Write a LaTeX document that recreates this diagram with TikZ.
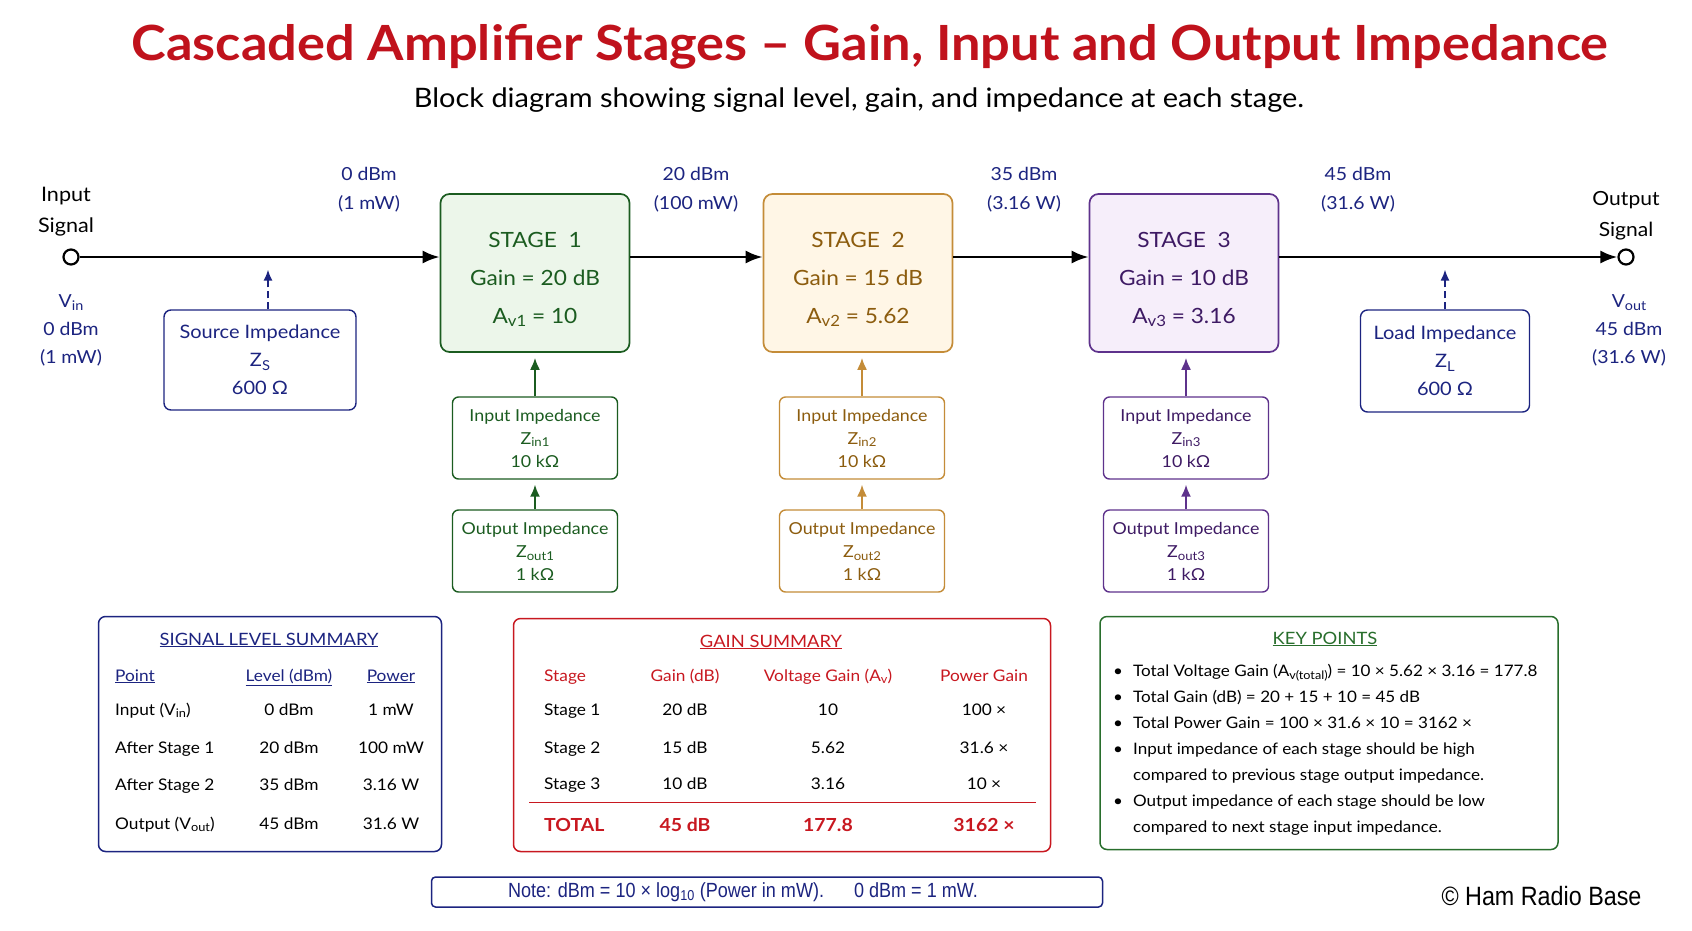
\documentclass[tikz,border=0pt]{standalone}
\usepackage{fontspec}
\setmainfont{Lato}[FakeStretch=1.08]
\newfontfamily\narrowfont[FakeStretch=0.88]{Liberation Sans}
\usetikzlibrary{arrows.meta}

\definecolor{titlered}{RGB}{192,18,28}
\definecolor{navy}{RGB}{28,36,128}
\definecolor{stgreen}{RGB}{27,92,32}
\definecolor{stgreenfill}{RGB}{236,246,234}
\definecolor{storange}{RGB}{140,92,14}
\definecolor{storangeline}{RGB}{196,140,56}
\definecolor{storangefill}{RGB}{255,246,230}
\definecolor{stpurple}{RGB}{62,26,100}
\definecolor{stpurpleline}{RGB}{94,50,140}
\definecolor{stpurplefill}{RGB}{246,238,250}
\definecolor{gainred}{RGB}{200,24,32}
\definecolor{keygreen}{RGB}{40,110,44}

\newcommand\fsz[2]{\fontsize{#1}{#2}\selectfont}
\newcommand\subtxt[1]{\raisebox{-0.35ex}{\scalebox{0.74}{#1}}}
\newcommand\topstrut{\rule{0pt}{28pt}}

\tikzset{
  term/.style={circle, draw, line width=2.2pt, fill=white, minimum size=15pt, inner sep=0pt},
  sigline/.style={line width=2.6pt, -{Latex[length=17pt,width=13pt]}},
  stagebox/.style={draw, rounded corners=9pt, line width=1.7pt, minimum width=189pt,
    minimum height=158pt, align=center, font=\fsz{21}{38}},
  impbox/.style={draw, rounded corners=6pt, line width=1.4pt, fill=white, minimum width=165pt,
    minimum height=82pt, align=center, font=\fsz{16.5}{23}},
  zbox/.style={draw=navy, text=navy, rounded corners=7pt, line width=1.4pt, align=center,
    font=\fsz{18.5}{28}},
  upar/.style={line width=1.8pt, shorten >=5pt, -{Latex[length=12pt,width=10pt]}},
  dasharrow/.style={navy, line width=1.6pt, dash pattern=on 7pt off 4pt, shorten >=4pt,
    -{Latex[length=11pt,width=9pt]}},
  lvl/.style={text=navy, align=center, font=\fsz{18}{29}},
  panel/.style={draw, rounded corners=7pt, line width=1.5pt},
  cell/.style={font=\fsz{16}{20}, text height=12pt, text depth=4pt, inner sep=0pt},
  tothead/.style={font=\fsz{18}{22}\bfseries, text=gainred, text height=14pt, text depth=4pt, inner sep=0pt}
}

\begin{document}
\begin{tikzpicture}[x=1pt, y=-1pt]
\fill[white] (0,0) rectangle (1692,930);
\useasboundingbox (0,0) rectangle (1692,930);

% heading
\node[font=\fsz{48.5}{54}\bfseries, text=titlered] (title) at (870,47)
  {Cascaded Amplifier Stages – Gain, Input and Output Impedance};
\node[font=\fsz{26.8}{30}] (subtitle) at (859,100)
  {Block diagram showing signal level, gain, and impedance at each stage.};

% input and output terminals
\node[term] (vin) at (71,257) {};
\node[term] (vout) at (1626,257) {};
\node[align=center, font=\fsz{20}{31}] (inlbl) at (66,212) {Input\\Signal};
\node[align=center, font=\fsz{19.5}{31}] (outlbl) at (1626,216) {Output\\Signal};
\node[lvl, font=\fsz{18}{28}] (vinlbl) at (71,330) {V\subtxt{in}\\0 dBm\\(1 mW)};
\node[lvl, font=\fsz{18}{28}] (voutlbl) at (1629,330) {V\subtxt{out}\\45 dBm\\(31.6 W)};

% signal levels along the line
\node[lvl] (lvl0) at (369,190) {0 dBm\\(1 mW)};
\node[lvl] (lvl1) at (696,190) {20 dBm\\(100 mW)};
\node[lvl] (lvl2) at (1024,190) {35 dBm\\(3.16 W)};
\node[lvl] (lvl3) at (1358,190) {45 dBm\\(31.6 W)};

% stages
\node[stagebox, draw=stgreen, fill=stgreenfill, text=stgreen] (st1) at (535,273)
  {\topstrut STAGE\ \ 1\\Gain\ =\ 20\ dB\\A\subtxt{v1}\ =\ 10};
\node[stagebox, draw=storangeline, fill=storangefill, text=storange] (st2) at (858,273)
  {\topstrut STAGE\ \ 2\\Gain\ =\ 15\ dB\\A\subtxt{v2}\ =\ 5.62};
\node[stagebox, draw=stpurpleline, fill=stpurplefill, text=stpurple] (st3) at (1184,273)
  {\topstrut STAGE\ \ 3\\Gain\ =\ 10\ dB\\A\subtxt{v3}\ =\ 3.16};

% impedance boxes under each stage
\node[impbox, draw=stgreen, text=stgreen] (zi1) at (535,438) {Input Impedance\\Z\subtxt{in1}\\10 kΩ};
\node[impbox, draw=stgreen, text=stgreen] (zo1) at (535,551) {Output Impedance\\Z\subtxt{out1}\\1 kΩ};
\node[impbox, draw=storangeline, text=storange] (zi2) at (862,438) {Input Impedance\\Z\subtxt{in2}\\10 kΩ};
\node[impbox, draw=storangeline, text=storange] (zo2) at (862,551) {Output Impedance\\Z\subtxt{out2}\\1 kΩ};
\node[impbox, draw=stpurpleline, text=stpurple] (zi3) at (1186,438) {Input Impedance\\Z\subtxt{in3}\\10 kΩ};
\node[impbox, draw=stpurpleline, text=stpurple] (zo3) at (1186,551) {Output Impedance\\Z\subtxt{out3}\\1 kΩ};

% source and load
\node[zbox, minimum width=192pt, minimum height=100pt] (zs) at (260,360) {Source Impedance\\Z\subtxt{S}\\600 Ω};
\node[zbox, minimum width=169pt, minimum height=102pt] (zl) at (1445,361) {Load Impedance\\Z\subtxt{L}\\600 Ω};

% signal path
\draw[sigline] (vin.east) -- (vin.east -| st1.west);
\draw[sigline] (vin -| st1.east) -- (vin -| st2.west);
\draw[sigline] (vin -| st2.east) -- (vin -| st3.west);
\draw[sigline] (vin -| st3.east) -- (vout.west);

\draw[dasharrow] ([xshift=8pt]zs.north) -- ([xshift=8pt]zs.north |- vin.south);
\draw[dasharrow] (zl.north) -- (zl.north |- vin.south);

\draw[upar, stgreen] (zo1) -- (zi1);
\draw[upar, stgreen] (zi1) -- (st1);
\draw[upar, storangeline] (zo2) -- (zi2);
\draw[upar, storangeline] (zi2) -- (zi2 |- st2.south);
\draw[upar, stpurpleline] (zo3) -- (zi3);
\draw[upar, stpurpleline] (zi3) -- (zi3 |- st3.south);

% signal level summary
\node[panel, draw=navy, minimum width=343pt, minimum height=235pt] (sigpanel) at (270,734) {};
\node[font=\fsz{17}{20}, text=navy] (sighead) at (269,640) {\underline{SIGNAL LEVEL SUMMARY}};
\node[cell, text=navy, anchor=west] (sigc1) at (115,677) {\underline{Point}};
\node[cell, text=navy] (sigc2) at (289,677) {\underline{Level (dBm)}};
\node[cell, text=navy] (sigc3) at (391,677) {\underline{Power}};
\node[cell, anchor=west] (sigr1a) at (115,711) {Input (V\subtxt{in})};
\node[cell] (sigr1b) at (289,711) {0 dBm};
\node[cell] (sigr1c) at (391,711) {1 mW};
\node[cell, anchor=west] (sigr2a) at (115,749) {After Stage 1};
\node[cell] (sigr2b) at (289,749) {20 dBm};
\node[cell] (sigr2c) at (391,749) {100 mW};
\node[cell, anchor=west] (sigr3a) at (115,786) {After Stage 2};
\node[cell] (sigr3b) at (289,786) {35 dBm};
\node[cell] (sigr3c) at (391,786) {3.16 W};
\node[cell, anchor=west] (sigr4a) at (115,825) {Output (V\subtxt{out})};
\node[cell] (sigr4b) at (289,825) {45 dBm};
\node[cell] (sigr4c) at (391,825) {31.6 W};

% gain summary
\node[panel, draw=gainred, minimum width=537pt, minimum height=233pt] (gainpanel) at (782,735) {};
\node[font=\fsz{17}{20}, text=gainred] (gainhead) at (771,642) {\underline{GAIN SUMMARY}};
\node[cell, text=gainred, anchor=west] (gainc1) at (544,677) {Stage};
\node[cell, text=gainred] (gainc2) at (685,677) {Gain (dB)};
\node[cell, text=gainred] (gainc3) at (828,677) {Voltage Gain (A\subtxt{v})};
\node[cell, text=gainred] (gainc4) at (984,677) {Power Gain};
\node[cell, anchor=west] (gainr1a) at (544,711) {Stage 1};
\node[cell] (gainr1b) at (685,711) {20 dB};
\node[cell] (gainr1c) at (828,711) {10};
\node[cell] (gainr1d) at (984,711) {100 ×};
\node[cell, anchor=west] (gainr2a) at (544,749) {Stage 2};
\node[cell] (gainr2b) at (685,749) {15 dB};
\node[cell] (gainr2c) at (828,749) {5.62};
\node[cell] (gainr2d) at (984,749) {31.6 ×};
\node[cell, anchor=west] (gainr3a) at (544,785) {Stage 3};
\node[cell] (gainr3b) at (685,785) {10 dB};
\node[cell] (gainr3c) at (828,785) {3.16};
\node[cell] (gainr3d) at (984,785) {10 ×};
\draw[gainred, line width=1pt] (529,802) -- (1036,802);
\node[tothead, anchor=west] (gaintota) at (544,826) {TOTAL};
\node[tothead] (gaintotb) at (685,826) {45 dB};
\node[tothead] (gaintotc) at (828,826) {177.8};
\node[tothead] (gaintotd) at (984,826) {3162 ×};

% key points
\node[panel, draw=keygreen, minimum width=458pt, minimum height=233pt] (keypanel) at (1329,733) {};
\node[font=\fsz{17}{20}, text=keygreen] (keyhead) at (1325,639) {\underline{KEY POINTS}};
\node[anchor=north west, inner sep=0pt, font=\fsz{15.8}{26}] (keylist) at (1113,658) {%
  \begin{tabular}{@{}c@{\hspace{10pt}}l@{}}
  • & Total Voltage Gain (A\subtxt{v(total)}) = 10 × 5.62 × 3.16 = 177.8\\
  • & Total Gain (dB) = 20 + 15 + 10 = 45 dB\\
  • & Total Power Gain = 100 × 31.6 × 10 = 3162 ×\\
  • & Input impedance of each stage should be high\\
    & compared to previous stage output impedance.\\
  • & Output impedance of each stage should be low\\
    & compared to next stage input impedance.
  \end{tabular}};

% note and credit
\node[panel, draw=navy, rounded corners=4pt, minimum width=671pt, minimum height=30pt] (notepanel) at (767,892) {};
\node[font=\narrowfont\fsz{20.5}{22}, text=navy] (note) at (743,892)
  {Note: dBm = 10 × log\textsubscript{10} (Power in mW).\hspace{30pt}0 dBm = 1 mW.};
\node[font=\narrowfont\fsz{26.5}{30}, anchor=east] (credit) at (1645,896) {© Ham Radio Base};
\end{tikzpicture}
\end{document}
